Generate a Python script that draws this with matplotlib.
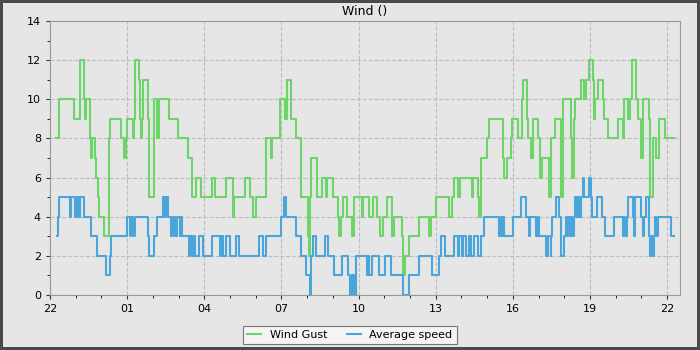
import pandas as pd
import matplotlib
matplotlib.use("Agg")
import matplotlib.pyplot as plt
import matplotlib.dates as mdates

# hours after 22:00, value changes (step series)
gust_hours = [0.25, 0.34, 0.95, 1.18, 1.34, 1.37, 1.41, 1.54, 1.57, 1.61, 1.65, 1.75, 1.80, 1.88, 1.91,
              2.09, 2.28, 2.33, 2.78, 2.89, 2.97, 3.01, 3.22, 3.27, 3.29, 3.45, 3.49, 3.53, 3.58, 3.62,
              3.81, 3.85, 4.06, 4.15, 4.23, 4.63, 4.98, 5.37, 5.51, 5.68, 5.86, 6.30, 6.43, 6.85, 7.10,
              7.14, 7.59, 7.76, 7.91, 8.02, 8.41, 8.59, 8.65, 8.95, 9.14, 9.21, 9.36, 9.57, 9.75, 10.05,
              10.08, 10.12, 10.15, 10.40, 10.57, 10.73, 10.79, 11.02, 11.21, 11.24, 11.30, 11.41, 11.54,
              11.73, 11.82, 12.12, 12.18, 12.40, 12.55, 12.71, 12.84, 12.97, 13.11, 13.30, 13.39, 13.69,
              13.74, 13.82, 13.98, 14.34, 14.75, 14.83, 15.01, 15.51, 15.63, 15.73, 15.85, 15.96, 16.43,
              16.47, 16.63, 16.69, 16.75, 17.01, 17.08, 17.60, 17.64, 17.79, 17.92, 17.96, 18.21, 18.34,
              18.38, 18.54, 18.60, 18.70, 18.77, 18.96, 19.04, 19.12, 19.41, 19.48, 19.63, 19.87, 19.97,
              20.28, 20.32, 20.39, 20.43, 20.65, 20.78, 20.84, 20.95, 21.13, 21.17, 21.21, 21.30, 21.49,
              21.53, 21.69, 22.08, 22.27, 22.34, 22.47, 22.56, 22.63, 22.79, 22.85, 22.98, 23.08, 23.28,
              23.33, 23.44, 23.57, 23.67, 23.93, 24.28]
gust_values = [8, 10, 9, 12, 10, 9, 10, 9, 8, 7, 8, 7, 6, 5, 4,
               3, 8, 9, 8, 7, 8, 9, 8, 9, 12, 11, 9, 8, 9, 11,
               9, 5, 10, 8, 10, 9, 8, 7, 5, 6, 5, 6, 5, 6, 4,
               5, 6, 5, 4, 5, 8, 7, 8, 10, 9, 11, 9, 8, 5, 3,
               2, 5, 7, 5, 6, 5, 6, 5, 4, 3, 4, 5, 4,
               3, 5, 4, 5, 4, 5, 4, 3, 4, 5, 3, 4, 3,
               1, 2, 3, 4, 3, 4, 5, 4, 5, 6, 5, 6, 5,
               6, 5, 4, 7, 8, 9, 7, 6, 7, 8, 9, 8, 10,
               11, 9, 8, 7, 9, 8, 6, 7, 5, 8, 9, 5, 10,
               8, 6, 9, 10, 11, 10, 11, 12, 11, 9, 10, 11, 10,
               9, 8, 9, 8, 10, 9, 10, 12, 10, 9, 7, 10, 9,
               5, 8, 7, 9, 8, 8]

avg_hours = [0.27, 0.31, 0.35, 0.77, 0.83, 0.99, 1.05, 1.13, 1.15, 1.32, 1.61, 1.84, 2.19, 2.32, 2.39,
             3.01, 3.10, 3.14, 3.23, 3.32, 3.81, 3.87, 4.06, 4.16, 4.40, 4.47, 4.50, 4.59, 4.72, 4.79,
             4.86, 4.94, 5.04, 5.09, 5.15, 5.41, 5.46, 5.54, 5.59, 5.63, 5.80, 5.95, 6.32, 6.63, 6.67,
             6.73, 6.86, 7.02, 7.22, 7.35, 8.11, 8.28, 8.39, 8.98, 9.10, 9.16, 9.56, 9.78, 9.97, 10.10,
             10.17, 10.23, 10.33, 10.69, 10.82, 11.05, 11.34, 11.60, 11.66, 11.75, 11.82, 11.92, 12.32,
             12.37, 12.42, 12.53, 12.81, 13.01, 13.26, 13.72, 13.98, 14.37, 14.86, 15.12, 15.21, 15.38,
             15.73, 15.85, 15.92, 16.01, 16.08, 16.18, 16.24, 16.30, 16.37, 16.50, 16.63, 16.75, 16.88,
             17.47, 17.53, 17.58, 17.62, 17.66, 17.99, 18.31, 18.51, 18.61, 18.67, 18.92, 18.96, 19.00,
             19.28, 19.35, 19.47, 19.50, 19.54, 19.67, 19.80, 19.87, 20.00, 20.06, 20.12, 20.15, 20.22,
             20.26, 20.30, 20.39, 20.43, 20.48, 20.52, 20.58, 20.65, 20.71, 20.78, 20.95, 21.04, 21.08,
             21.26, 21.47, 21.60, 21.95, 22.27, 22.34, 22.37, 22.43, 22.47, 22.69, 22.71, 22.75, 22.98,
             23.05, 23.10, 23.18, 23.28, 23.33, 23.39, 23.44, 23.49, 23.54, 23.58, 23.63, 24.15, 24.28]
avg_values = [3, 4, 5, 4, 5, 4, 5, 4, 5, 4, 3, 2, 1, 2, 3,
              4, 3, 4, 3, 4, 3, 2, 3, 4, 5, 4, 5, 4, 3, 4,
              3, 4, 3, 4, 3, 2, 3, 2, 3, 2, 3, 2, 3, 2, 3,
              2, 3, 2, 3, 2, 3, 2, 3, 4, 5, 4, 3, 2, 1, 0,
              2, 3, 2, 3, 2, 1, 2, 1, 0, 1, 0, 2, 1,
              2, 1, 2, 1, 2, 1, 0, 1, 2, 1, 2, 3, 2,
              3, 2, 3, 2, 3, 2, 2, 3, 2, 3, 2, 3, 4,
              3, 4, 3, 4, 3, 4, 5, 4, 3, 4, 3, 4, 3,
              2, 3, 2, 3, 4, 5, 4, 2, 3, 4, 3, 4, 3,
              4, 3, 4, 5, 4, 5, 4, 5, 6, 5, 6, 5, 4,
              5, 4, 3, 4, 3, 4, 3, 4, 5, 4, 3, 5, 4,
              3, 4, 5, 3, 2, 3, 2, 3, 4, 3, 4, 3, 3]

start = pd.Timestamp("2024-01-01 22:00")
gust_t = start + pd.to_timedelta(gust_hours, unit="h")
avg_t = start + pd.to_timedelta(avg_hours, unit="h")

bg = "#e6e6e6"
fig = plt.figure(figsize=(7, 3.5), dpi=100, facecolor=bg)
fig.patch.set_edgecolor("#4a4a4a")
fig.patch.set_linewidth(3)
ax = fig.add_axes([0.0714, 0.157, 0.9, 0.783], facecolor=bg)

ax.plot(gust_t, gust_values, drawstyle="steps-post", color="#6dd46a", lw=1.5, label="Wind Gust")
ax.plot(avg_t, avg_values, drawstyle="steps-post", color="#4aa6da", lw=1.5, label="Average speed")

ax.set_xlim(start, start + pd.Timedelta(hours=24.5))
ax.set_ylim(0, 14)
ax.set_yticks(range(0, 15, 2))
ax.set_yticks(range(0, 15), minor=True)
ax.xaxis.set_major_locator(mdates.HourLocator(byhour=range(1, 24, 3)))
ax.xaxis.set_minor_locator(mdates.HourLocator())
ax.xaxis.set_major_formatter(mdates.DateFormatter("%H"))
ax.tick_params(labelsize=8, color="#333333", length=3)
ax.tick_params(which="minor", length=2)
ax.grid(True, linestyle="--", color="#bdbdbd", lw=0.8)
for s in ax.spines.values():
    s.set_color("#999999")
ax.set_title("Wind ()", fontsize=9, pad=4)

leg = fig.legend(loc="lower center", bbox_to_anchor=(0.5, 0.0), ncol=2, fontsize=8,
                 fancybox=False, edgecolor="#777777", facecolor="#f4f4f4", framealpha=1,
                 handlelength=1.2, columnspacing=1.8, borderpad=0.4)
leg.get_frame().set_linewidth(0.8)

fig.savefig("out.png", dpi=100, facecolor=bg, edgecolor="#4a4a4a")
